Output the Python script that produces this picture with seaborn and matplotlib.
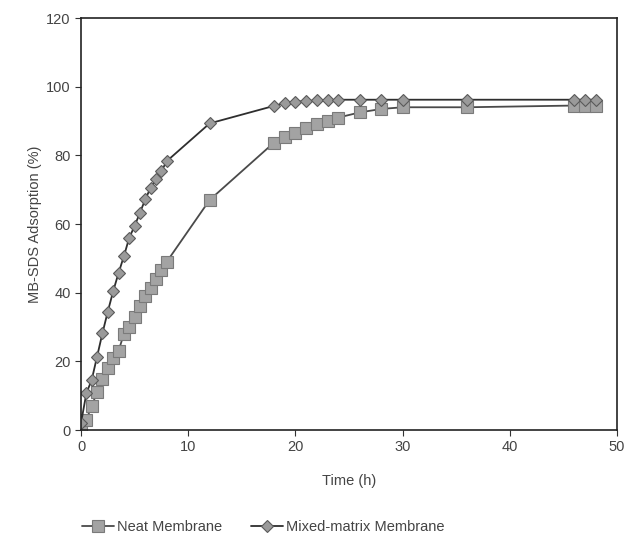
import numpy as np
import pandas as pd
import matplotlib
matplotlib.use("Agg")
import matplotlib.pyplot as plt
import seaborn as sns

# ---- data ----
neat_time = [0, 0.5, 1, 1.5, 2, 2.5, 3, 3.5, 4, 4.5, 5, 5.5, 6, 6.5, 7, 7.5, 8,
             12, 18, 19, 20, 21, 22, 23, 24, 26, 28, 30, 36, 46, 47, 48]
neat_ads = [0, 3, 7, 11, 15, 18, 21, 23, 28, 30, 33, 36, 39, 41.5, 44, 46.5, 49,
            67, 83.7, 85.2, 86.6, 88.1, 89, 90, 91, 92.5, 93.5, 94, 94, 94.5, 94.5, 94.5]
mixed_time = [0, 0.5, 1, 1.5, 2, 2.5, 3, 3.5, 4, 4.5, 5, 5.5, 6, 6.5, 7, 7.5, 8,
              12, 18, 19, 20, 21, 22, 23, 24, 26, 28, 30, 36, 46, 47, 48]
mixed_ads = [2, 10.7, 14.6, 21.4, 28.2, 34.5, 40.4, 45.7, 50.6, 56, 59.4, 63.3, 67.2, 70.6, 73, 75.4, 78.3,
             89.3, 94.4, 95.2, 95.6, 95.8, 96, 96, 96.2, 96.2, 96.2, 96.2, 96.2, 96.2, 96.2, 96.2]
series_names = ["Neat Membrane", "Mixed-matrix Membrane"]
x_ticks = [0, 10, 20, 30, 40, 50]
y_ticks = [0, 20, 40, 60, 80, 100, 120]

df = pd.concat([
    pd.DataFrame({"Time": neat_time, "Ads": neat_ads, "Series": series_names[0]}),
    pd.DataFrame({"Time": mixed_time, "Ads": mixed_ads, "Series": series_names[1]}),
], ignore_index=True)

sns.set_theme(style="white")
plt.rcParams["font.family"] = ["Liberation Sans", "DejaVu Sans"]

fig = plt.figure(figsize=(6.36, 5.42), dpi=100)
ax = fig.add_axes([81/636, 1-430/542, (617-81)/636, (430-18)/542])

styles = {
    series_names[0]: dict(marker="s", markersize=8.5, markerfacecolor="#a3a3a3",
                          markeredgecolor="#7a7a7a", color="#4a4a4a"),
    series_names[1]: dict(marker="D", markersize=6.5, markerfacecolor="#9a9a9a",
                          markeredgecolor="#5a5a5a", color="#2e2e2e"),
}
for name in series_names:
    sub = df[df["Series"] == name]
    sns.lineplot(data=sub, x="Time", y="Ads", ax=ax, label=name,
                 linewidth=1.3, markeredgewidth=0.8, estimator=None, sort=False,
                 **styles[name])

ax.set_xlim(0, 50)
ax.set_ylim(0, 120)
ax.set_xticks(x_ticks)
ax.set_yticks(y_ticks)
ax.tick_params(axis="both", direction="out", length=4, width=0.8,
               labelsize=10.5, labelcolor="#444444", color="#333333",
               bottom=True, left=True)
for s in ax.spines.values():
    s.set_color("#222222")
    s.set_linewidth(1.2)
ax.set_xlabel("Time (h)", fontsize=10.5, color="#444444", labelpad=14)
ax.set_ylabel("MB-SDS Adsorption (%)", fontsize=10.5, color="#444444", labelpad=3)

ax.get_legend().remove()
handles, labels = ax.get_legend_handles_labels()
fig.legend(handles, labels, loc="center", bbox_to_anchor=(263/636, 1-527/542),
           ncol=2, frameon=False, fontsize=10.5, labelcolor="#444444",
           handlelength=2.2, columnspacing=2.0, handletextpad=0.2)

fig.savefig("out.png", dpi=100)
